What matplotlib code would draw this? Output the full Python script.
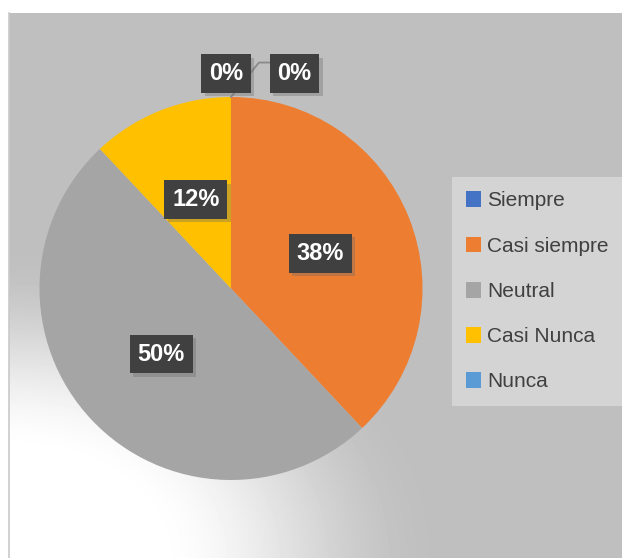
import numpy as np
import matplotlib
matplotlib.use("Agg")
import matplotlib.pyplot as plt
import matplotlib.patheffects as pe

plt.rcParams['font.family'] = ['Liberation Sans', 'DejaVu Sans']

# survey answers, share of responses (%)
categories = ['Siempre', 'Casi siempre', 'Neutral', 'Casi Nunca', 'Nunca']
shares = [0, 38, 50, 12, 0]
colors = ['#4472C4', '#ED7D31', '#A5A5A5', '#FFC000', '#5B9BD5']

W, H = 622, 558
fig = plt.figure(figsize=(W / 100, H / 100), dpi=100)
fig.patch.set_facecolor('white')

# chart area: flat grey with a soft white glow in the lower-left corner
x0, y0 = 9, 13
bg = fig.add_axes([x0 / W, 0, (W - x0) / W, (H - y0) / H], zorder=-5)
xx, yy = np.meshgrid(np.arange(x0, W), np.arange(y0, H))
d = np.sqrt(((xx - x0) / 430.0) ** 2 + ((H - yy) / 310.0) ** 2)
t = np.clip((d - 0.33) / 0.67, 0, 1)
t = t * t * (3 - 2 * t)
shade = 255 - (255 - 191) * t
bg.imshow(shade, cmap='gray', vmin=0, vmax=255, aspect='auto',
          interpolation='bilinear')
bg.axis('off')
fig.add_artist(plt.Line2D([x0 / W, x0 / W], [0, (H - y0) / H],
                          transform=fig.transFigure, color='#c9c9c9', lw=1.2))

# pie axes
cx, cy, r = 231, 288.5, 191.5
ax = fig.add_axes([(cx - r) / W, (H - cy - r) / H, 2 * r / W, 2 * r / H])
wedges, texts, autotexts = ax.pie(
    shares, colors=colors, startangle=90, counterclock=False,
    autopct=lambda p: f'{p:.0f}%', pctdistance=0.5,
    wedgeprops=dict(linewidth=0))
ax.set_xlim(-1, 1)
ax.set_ylim(-1, 1)
ax.axis('off')

# zero slices get their labels pulled out above the pie
zero_pos = [(-0.026, 1.123), (0.332, 1.123)]
zi = 0
for val, txt in zip(shares, autotexts):
    if val == 0:
        txt.set_position(zero_pos[zi])
        zi += 1

# leader line from the second zero label down to the top of the pie
ax.plot([0.204, 0.146, 0.0], [1.18, 1.18, 1.0], color='#8a8a8a', lw=1.3,
        clip_on=False, zorder=1)

for txt in autotexts:
    txt.set(color='white', fontsize=17, fontweight='bold', zorder=5,
            clip_on=False)
    txt.set_bbox(dict(boxstyle='square,pad=0.33', facecolor='#404040',
                      edgecolor='none', linewidth=0))
    txt.get_bbox_patch().set_path_effects(
        [pe.SimplePatchShadow(offset=(2.5, -2.5), shadow_rgbFace='#6a6a6a',
                              alpha=0.35), pe.Normal()])

leg = fig.legend(wedges, categories, loc='upper left',
                 bbox_to_anchor=(451.7 / W, 1 - 176.7 / H),
                 bbox_transform=fig.transFigure, borderaxespad=0,
                 fontsize=15, frameon=True, fancybox=False,
                 handlelength=0.7, handleheight=0.8, handletextpad=0.3,
                 labelspacing=1.25, borderpad=0.7)
leg.get_frame().set_facecolor('#d4d4d4')
leg.get_frame().set_edgecolor('none')
leg.get_frame().set_alpha(1)
for t_ in leg.get_texts():
    t_.set_color('#404040')

fig.savefig('out.png', dpi=100)
